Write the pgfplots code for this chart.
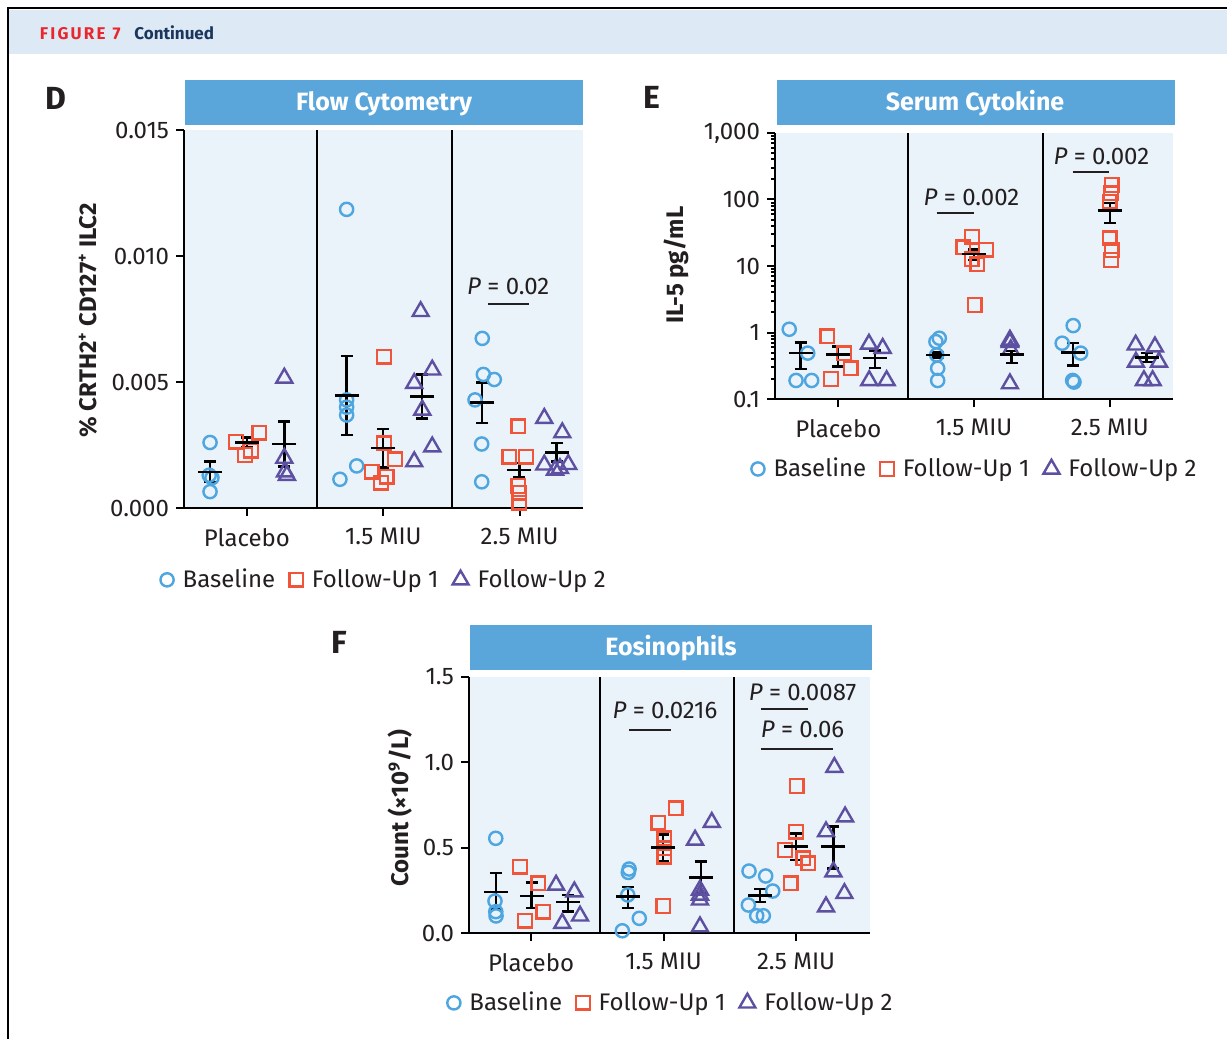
\documentclass[border=0pt]{standalone}
\usepackage{pgfplots}
\pgfplotsset{compat=1.18}
\usepackage{fontspec}
\setmainfont{Fira Sans}
\definecolor{cB}{HTML}{4DA6DF}
\definecolor{cR}{HTML}{F0553A}
\definecolor{cP}{HTML}{5D50A0}
\definecolor{bgP}{HTML}{EAF2FA}
\definecolor{ttl}{HTML}{5AA6DB}
\definecolor{hdr}{HTML}{DDEAF6}
\definecolor{figred}{HTML}{E8262C}
\definecolor{navy}{HTML}{1B365D}
\definecolor{txt}{HTML}{231F20}
\newcommand{\fs}{\fontsize{12}{14}\selectfont}
\pgfplotsset{
  panel/.style={
    scale only axis, clip=false,
    axis background/.style={fill=bgP},
    separate axis lines,
    axis x line*=bottom, axis y line*=left,
    x axis line style={-, line width=1pt, black},
    y axis line style={-, line width=1pt, black},
    every tick/.style={line width=1pt, black},
    tick align=outside,
    major tick length=4pt, minor tick length=2pt,
    xtick={1,2,3},
    xticklabels={Placebo,1.5 MIU,2.5 MIU},
    xticklabel style={yshift=-2.5pt},
    extra x tick labels={,},
    extra x tick style={grid=major, major tick length=0pt},
    major grid style={black, line width=1pt},
    scaled y ticks=false,
    tick label style={font=\fs, text=txt},
    ylabel style={font=\bfseries\fs, text=txt},
    legend columns=3,
    legend style={draw=none, fill=none, font=\fs, text=txt,
      /tikz/every odd column/.append style={column sep=2.5pt},
      /tikz/every even column/.append style={column sep=5pt}},
    legend image code/.code={\draw[mark repeat=2,mark phase=2,##1] plot coordinates {(0cm,0cm)(0.2cm,0cm)(0.4cm,0cm)};},
  },
  sB/.style={only marks, mark=o, color=cB, mark size=3.3pt, mark options={line width=1.2pt}},
  sR/.style={only marks, mark=square, color=cR, mark size=3.4pt, mark options={line width=1.2pt}},
  sP/.style={only marks, mark=triangle, color=cP, mark size=4.6pt, mark options={line width=1.2pt}},
  sM/.style={only marks, mark=-, color=black, mark size=6pt, mark options={line width=1.2pt}, forget plot,
    error bars/.cd, y dir=both, y explicit,
    error bar style={line width=1.2pt, black},
    error mark options={line width=1.2pt, mark size=3pt, black, rotate=90}},
}
\begin{document}
\begin{tikzpicture}
\begin{scope}[x=0.5pt,y=-0.5pt]
\useasboundingbox (0,0) rectangle (1227,1039);
\fill[white] (0,0) rectangle (1227,1039);
\fill[hdr] (9,9.5) rectangle (1227,54);
\draw[line width=1pt, black] (8,1039) -- (8,8) -- (1227,8);
\node[anchor=base west, inner sep=0, font=\bfseries\fontsize{8.5}{10}\selectfont, text=figred] at (39.5,39) {F\kern1.1pt I\kern1.1pt G\kern1.1pt U\kern1.1pt R\kern1.1pt E\kern3.5pt 7};
\node[anchor=base west, inner sep=0, font=\bfseries\fontsize{8.5}{10}\selectfont, text=navy] at (134,39) {Continued};
% title boxes
\fill[ttl] (185,80) rectangle (583,125);
\node[anchor=base, text=white, font=\bfseries\fontsize{12.5}{14}\selectfont] at (384,110.5) {Flow Cytometry};
\fill[ttl] (777,80) rectangle (1175,125);
\node[anchor=base, text=white, font=\bfseries\fontsize{12.5}{14}\selectfont] at (975,110.5) {Serum Cytokine};
\fill[ttl] (470,625) rectangle (872,670);
\node[anchor=base, text=white, font=\bfseries\fontsize{12.5}{14}\selectfont] at (671,655) {Eosinophils};
% panel letters
\node[font=\bfseries\fontsize{16}{18}\selectfont, text=txt] at (56,98) {D};
\node[font=\bfseries\fontsize{16}{18}\selectfont, text=txt] at (652,97) {E};
\node[font=\bfseries\fontsize{16}{18}\selectfont, text=txt] at (339,642) {F};
\end{scope}

% ---------------- Panel D ----------------
\begin{axis}[panel, at={(92pt,-254pt)}, anchor=south west,
  width=199.5pt, height=189pt,
  xmin=0.538, xmax=3.465, ymin=0, ymax=0.015,
  extra x ticks={1.511,2.502},
  ytick={0,0.005,0.01,0.015}, yticklabels={0.000,0.005,0.010,0.015},
  ylabel={\% CRTH2\textsuperscript{+} CD127\textsuperscript{+} ILC2},
  ylabel style={at={(axis description cs:-0.2406,0.497)}, anchor=center},
  legend style={at={(0.504,-0.19)}, anchor=center}]
\addplot[sB] coordinates {(0.729,0.0026) (0.723,0.0013) (0.743,0.0012) (0.729,0.00065)
 (1.731,0.01185) (1.731,0.00429) (1.731,0.0040) (1.731,0.00369) (1.805,0.00167) (1.682,0.00114)
 (2.726,0.00673) (2.734,0.0053) (2.814,0.0051) (2.673,0.00429) (2.722,0.00254) (2.722,0.00104)};
\addplot[sR] coordinates {(0.919,0.00263) (1.090,0.00299) (1.029,0.00227) (0.985,0.0021)
 (2.005,0.0060) (2.005,0.00257) (2.086,0.00193) (1.915,0.00144) (2.025,0.00124) (1.983,0.0010)
 (2.990,0.00325) (2.924,0.00204) (3.047,0.00204) (2.990,0.00087) (2.998,0.00061) (2.998,0.00021)};
\addplot[sP] coordinates {(1.274,0.00516) (1.274,0.00198) (1.279,0.00144) (1.293,0.0013)
 (2.274,0.0078) (2.359,0.00548) (2.227,0.00495) (2.286,0.00389) (2.359,0.00243) (2.227,0.00184)
 (3.181,0.00356) (3.313,0.00299) (3.181,0.00171) (3.260,0.00151) (3.357,0.00173) (3.296,0.00157)};
\legend{Baseline,Follow-Up 1,Follow-Up 2}
\addplot[sM] coordinates {
 (0.729,0.00144) +- (0,0.0004)
 (1.0,0.0026) +- (0,0.0002)
 (1.274,0.00254) +- (0,0.0009)
 (1.731,0.00446) +- (0,0.00157)
 (2.0,0.00237) +- (0,0.00076)
 (2.286,0.00442) +- (0,0.00087)
 (2.726,0.00418) +- (0,0.0008)
 (2.998,0.00151) +- (0,0.00028)
 (3.272,0.00221) +- (0,0.00037)};
\node[font=\fs, text=txt] at (axis cs:2.917,0.00881) {\textit{P} = 0.02};
\draw[line width=1pt, txt] (axis cs:2.770,0.0081) -- (axis cs:3.069,0.0081);
\end{axis}

% ---------------- Panel E ----------------
\begin{axis}[panel, at={(387.5pt,-199.5pt)}, anchor=south west,
  width=199pt, height=133pt,
  xmin=0.534, xmax=3.465, ymode=log, ymin=0.1, ymax=1000,
  extra x ticks={1.515,2.505},
  ytick={0.1,1,10,100,1000}, yticklabels={0.1,1,10,100,{1,000}},
  minor ytick={0.2,0.3,0.4,0.5,0.6,0.7,0.8,0.9,2,3,4,5,6,7,8,9,20,30,40,50,60,70,80,90,200,300,400,500,600,700,800,900},
  ylabel={IL-5 pg/mL},
  ylabel style={at={(axis description cs:-0.249,0.504)}, anchor=center},
  legend style={at={(0.505,-0.263)}, anchor=center}]
\addplot[sB] coordinates {(0.639,1.12) (0.775,0.49) (0.689,0.19) (0.804,0.19)
 (1.744,0.82) (1.719,0.73) (1.725,0.46) (1.732,0.29) (1.732,0.19)
 (2.730,1.27) (2.649,0.69) (2.785,0.49) (2.726,0.19) (2.736,0.18)};
\addplot[sR] coordinates {(0.919,0.88) (1.042,0.49) (1.091,0.29) (0.946,0.20)
 (1.985,27.6) (1.920,19.1) (2.088,17.7) (1.982,12.6) (2.024,10.6) (2.004,2.6)
 (3.013,165) (3.008,124) (3.0,92.7) (3.0,26.1) (3.013,17.4) (3.008,12.3)};
\addplot[sP] coordinates {(1.226,0.67) (1.327,0.58) (1.228,0.19) (1.356,0.19)
 (2.264,0.77) (2.264,0.74) (2.264,0.71) (2.270,0.55) (2.264,0.17)
 (3.190,0.65) (3.332,0.61) (3.192,0.36) (3.362,0.36) (3.251,0.19) (3.315,0.19)};
\legend{Baseline,Follow-Up 1,Follow-Up 2}
\addplot[sM] coordinates {
 (0.723,0.49) += (0,0.22) -= (0,0.21)
 (1.0,0.47) += (0,0.15) -= (0,0.16)
 (1.270,0.41) += (0,0.13) -= (0,0.12)
 (1.732,0.46) += (0,0.04) -= (0,0.04)
 (1.999,15.0) += (0,2.7) -= (0,2.6)
 (2.277,0.47) += (0,0.06) -= (0,0.12)
 (2.730,0.50) += (0,0.19) -= (0,0.18)
 (3.0,67.9) += (0,21.6) -= (0,24)
 (3.271,0.42) += (0,0.07) -= (0,0.06)};
\node[font=\fs, text=txt] at (axis cs:1.981,107) {\textit{P} = 0.002};
\draw[line width=1pt, txt] (axis cs:1.725,62) -- (axis cs:1.999,62);
\node[font=\fs, text=txt] at (axis cs:2.938,451) {\textit{P} = 0.002};
\draw[line width=1pt, txt] (axis cs:2.726,262) -- (axis cs:2.996,262);
\end{axis}

% ---------------- Panel F ----------------
\begin{axis}[panel, at={(234.5pt,-466.5pt)}, anchor=south west,
  width=200.5pt, height=128pt,
  xmin=0.532, xmax=3.558, ymin=0, ymax=1.5,
  extra x ticks={1.521,2.534},
  ytick={0,0.5,1,1.5}, yticklabels={0.0,0.5,1.0,1.5},
  ylabel={Count (×10\textsuperscript{9}/L)},
  ylabel style={at={(axis description cs:-0.172,0.488)}, anchor=center},
  legend style={at={(0.506,-0.273)}, anchor=center}]
\addplot[sB] coordinates {(0.734,0.555) (0.728,0.1875) (0.734,0.125) (0.736,0.10)
 (1.740,0.375) (1.734,0.355) (1.730,0.223) (1.817,0.086) (1.689,0.013)
 (2.645,0.363) (2.771,0.334) (2.824,0.246) (2.640,0.164) (2.703,0.101) (2.753,0.101)};
\addplot[sR] coordinates {(0.917,0.389) (1.055,0.291) (1.093,0.125) (0.955,0.072)
 (2.092,0.73) (1.961,0.646) (2.006,0.555) (2.006,0.496) (2.006,0.447) (1.998,0.158)
 (3.005,0.861) (3.0,0.594) (2.917,0.486) (3.055,0.438) (3.093,0.408) (2.960,0.291)};
\addplot[sP] coordinates {(1.189,0.281) (1.327,0.242) (1.370,0.10) (1.236,0.057)
 (2.364,0.649) (2.238,0.545) (2.275,0.252) (2.275,0.223) (2.275,0.194) (2.275,0.037)
 (3.289,0.971) (3.370,0.681) (3.226,0.594) (3.282,0.359) (3.365,0.232) (3.226,0.154)};
\legend{Baseline,Follow-Up 1,Follow-Up 2}
\addplot[sM] coordinates {
 (0.734,0.242) += (0,0.108) -= (0,0.103)
 (1.005,0.217) += (0,0.078) -= (0,0.072)
 (1.277,0.18) += (0,0.043) -= (0,0.055)
 (1.730,0.213) += (0,0.058) -= (0,0.065)
 (1.998,0.50) += (0,0.078) -= (0,0.082)
 (2.283,0.326) += (0,0.092) -= (0,0.094)
 (2.728,0.219) +- (0,0.039)
 (3.0,0.506) +- (0,0.078)
 (3.282,0.506) += (0,0.117) -= (0,0.127)};
\node[font=\fs, text=txt] at (axis cs:2.011,1.307) {\textit{P} = 0.0216};
\draw[line width=1pt, txt] (axis cs:1.740,1.189) -- (axis cs:2.054,1.189);
\node[font=\fs, text=txt] at (axis cs:3.049,1.412) {\textit{P} = 0.0087};
\draw[line width=1pt, txt] (axis cs:2.734,1.311) -- (axis cs:3.093,1.311);
\node[font=\fs, text=txt] at (axis cs:3.049,1.195) {\textit{P} = 0.06};
\draw[line width=1pt, txt] (axis cs:2.734,1.078) -- (axis cs:3.277,1.078);
\end{axis}
\end{tikzpicture}
\end{document}
